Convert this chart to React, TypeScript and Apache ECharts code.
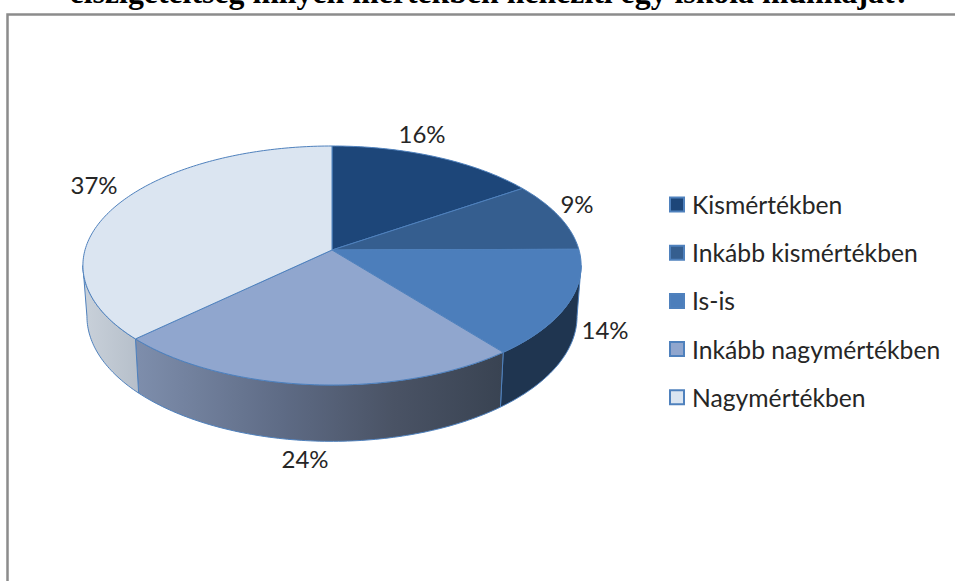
import React, { useEffect, useRef } from "react";
import * as echarts from "echarts";

const titleText = "elszigeteltség milyen mértékben nehezíti egy iskola munkáját?";
const categories = ["Kismértékben", "Inkább kismértékben", "Is-is", "Inkább nagymértékben", "Nagymértékben"];
const values = [15.5, 9.4, 14.4, 23.6, 37.1];
const topColors = ["#1d4679", "#355e8f", "#4c7ebb", "#90a6ce", "#dbe5f1"];
const labelCenters = [[422, 133], [577, 203], [605, 329], [305, 458], [94, 184]];

const EDGE = "#4f81bd";
const APEX_X = 332, APEX_Y = 250, TOP_A = 247, TOP_B = 117.5, K = 0.1297;
const BOT_A = 243, BOT_B = 123, BOT_Y = 300;

const total = values.reduce((a, b) => a + b, 0);
const starts = values.map((_, i) => values.slice(0, i).reduce((a, b) => a + b, 0));

const topPt = (t: number) => {
  const w = 1 + K * Math.cos(t);
  return [APEX_X + (TOP_A * Math.sin(t)) / w, APEX_Y - (TOP_B * Math.cos(t)) / w];
};
const botPt = (t: number) => {
  const w = 1 + K * Math.cos(t);
  return [APEX_X + (BOT_A * Math.sin(t)) / w, BOT_Y - (BOT_B * Math.cos(t)) / w];
};
const arc = (fn: (t: number) => number[], a: number, b: number) => {
  const n = Math.max(8, Math.ceil(Math.abs(b - a) * 60));
  const pts: number[][] = [];
  for (let i = 0; i <= n; i++) pts.push(fn(a + ((b - a) * i) / n));
  return pts;
};

const sideFills = [
  null,
  null,
  () => "#1f3550",
  () =>
    new echarts.graphic.LinearGradient(0, 0, 1, 0, [
      { offset: 0, color: "#7e8eac" },
      { offset: 0.4, color: "#5e6b85" },
      { offset: 0.7, color: "#4a5365" },
      { offset: 1, color: "#394352" },
    ]),
  () =>
    new echarts.graphic.LinearGradient(0, 0, 1, 0, [
      { offset: 0, color: "#c9d1da" },
      { offset: 1, color: "#b6bfca" },
    ]),
];

const renderSlice = (index: number) => (_params: any, api: any) => {
  const v = api.value(0);
  const s = api.value(1);
  const a0 = (s / total) * Math.PI * 2;
  const a1 = ((s + v) / total) * Math.PI * 2;
  const children: any[] = [];
  const sideStart = Math.acos(-K);
  const sideEnd = Math.PI * 2 - sideStart;
  const from = Math.max(a0, sideStart);
  const to = Math.min(a1, sideEnd);
  if (from < to && sideFills[index]) {
    children.push({
      type: "polygon",
      shape: { points: [...arc(topPt, from, to), ...arc(botPt, to, from)] },
      style: { fill: (sideFills[index] as any)(), stroke: EDGE, lineWidth: 1 },
    });
  }
  children.push({
    type: "polygon",
    shape: { points: [[APEX_X, APEX_Y], ...arc(topPt, a0, a1)] },
    style: { fill: topColors[index], stroke: EDGE, lineWidth: 1 },
  });
  children.push({
    type: "text",
    x: labelCenters[index][0],
    y: labelCenters[index][1],
    style: {
      text: `${Math.round(v)}%`,
      fill: "#262626",
      font: "24px Lato",
      align: "center",
      verticalAlign: "middle",
    },
  });
  return { type: "group", children };
};

export default function App() {
  const ref = useRef<HTMLDivElement>(null);
  useEffect(() => {
    document.body.style.margin = "0";
    const chart = echarts.init(ref.current!, undefined, { renderer: "svg" });
    chart.setOption({
      animation: false,
      backgroundColor: "#fff",
      title: {
        text: titleText,
        left: 485,
        top: -29,
        textAlign: "center",
        textStyle: { fontFamily: "Liberation Serif", fontWeight: "bold", fontSize: 31.8, color: "#000" },
      },
      legend: {
        orient: "vertical",
        left: 664,
        top: 187,
        itemWidth: 14,
        itemHeight: 14,
        itemGap: 23.2,
        textStyle: { fontFamily: "Lato", fontSize: 24.7, color: "#262626", padding: [0, 0, 0, 3] },
        data: categories.map((name, i) => ({
          name,
          icon: "rect",
          itemStyle: { color: topColors[i], borderColor: EDGE, borderWidth: 2 },
        })),
      },
      graphic: [
        {
          type: "rect",
          shape: { x: 7.5, y: 14.5, width: 1000, height: 700 },
          style: { fill: "none", stroke: "#8c8c8c", lineWidth: 2.5 },
          silent: true,
        },
      ],
      series: categories.map((name, i) => ({
        type: "custom",
        name,
        coordinateSystem: "none",
        renderItem: renderSlice(i),
        itemStyle: { color: topColors[i] },
        data: [[values[i], starts[i]]],
        silent: true,
      })),
    });
    return () => chart.dispose();
  }, []);
  return <div ref={ref} style={{ width: 955, height: 581 }} />;
}
